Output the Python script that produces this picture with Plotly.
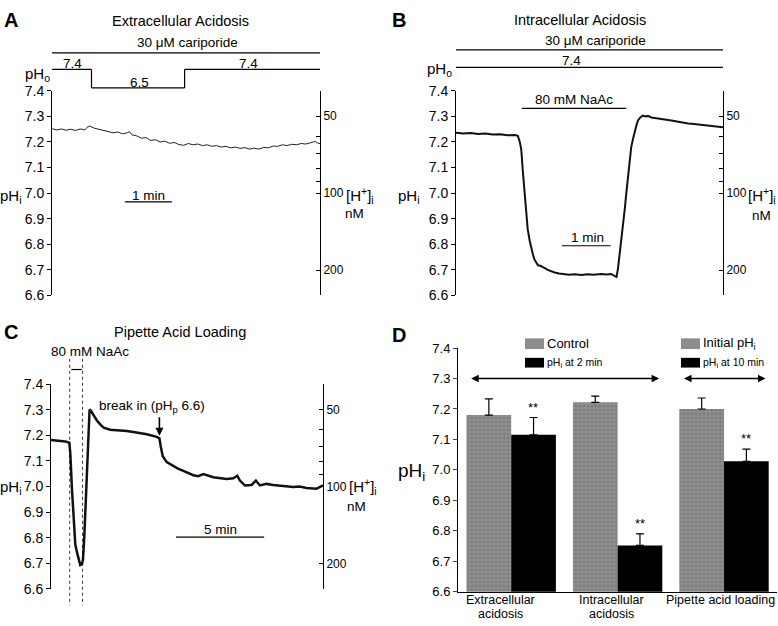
import plotly.graph_objects as go

W, H = 778, 626
FONT = "Liberation Sans, Arial, sans-serif"


def px(x):
    return x / W


def py(y):
    return 1 - y / H


# ---------------- shared tick data ----------------
ph_ticks = [6.6, 6.7, 6.8, 6.9, 7.0, 7.1, 7.2, 7.3, 7.4]
h_ticks = [40, 50, 60, 70, 80, 90, 100, 200]
h_labels = ["", "50", "", "", "", "", "100", "200"]

# ---------------- Panel A: extracellular acidosis ----------------
a_time = [0.0, 0.1, 0.2, 0.3, 0.4, 0.5, 0.6, 0.7, 0.75, 0.8, 0.9, 1.0, 1.1, 1.2, 1.3, 1.4,
          1.5, 1.6, 1.65, 1.7, 1.8, 1.9, 2.0, 2.1, 2.2, 2.3, 2.4, 2.5, 2.6, 2.7, 2.8, 2.9,
          3.0, 3.1, 3.2, 3.3, 3.4, 3.5, 3.6, 3.7, 3.8, 3.9, 4.0, 4.1, 4.2, 4.3, 4.4, 4.5,
          4.6, 4.7, 4.8, 4.9, 5.0, 5.1, 5.2, 5.3, 5.4, 5.5, 5.6, 5.65, 5.7]
a_phi = [7.252, 7.247, 7.251, 7.246, 7.250, 7.245, 7.251, 7.247, 7.258, 7.262, 7.254, 7.250,
         7.244, 7.242, 7.236, 7.239, 7.232, 7.236, 7.240, 7.228, 7.224, 7.215, 7.217, 7.206,
         7.209, 7.200, 7.203, 7.195, 7.198, 7.190, 7.187, 7.194, 7.189, 7.192, 7.186, 7.189,
         7.183, 7.186, 7.180, 7.183, 7.177, 7.180, 7.175, 7.178, 7.172, 7.176, 7.172, 7.179,
         7.177, 7.184, 7.183, 7.189, 7.186, 7.191, 7.189, 7.194, 7.192, 7.197, 7.202, 7.196,
         7.193]
a_range = [0, 5.7]
a_pho_switch = [0.84, 2.82]          # min: pHo 7.4 -> 6.5 -> 7.4
a_pho_labels = ["7.4", "6.5", "7.4"]
a_scale = [1.55, 2.55]               # 1 min bar

# ---------------- Panel B: intracellular acidosis ----------------
b_time = [0.0, 0.15, 0.3, 0.45, 0.6, 0.75, 0.9, 1.05, 1.2, 1.26, 1.30, 1.33, 1.36, 1.40,
          1.43, 1.46, 1.50, 1.53, 1.57, 1.60, 1.64, 1.67, 1.72, 1.77, 1.82, 1.87, 1.95,
          2.01, 2.10, 2.20, 2.30, 2.42, 2.55, 2.69, 2.80, 2.96, 3.06, 3.16, 3.24, 3.27,
          3.30, 3.34, 3.37, 3.40, 3.44, 3.47, 3.50, 3.54, 3.57, 3.61, 3.64, 3.68, 3.71,
          3.76, 3.81, 3.86, 3.91, 3.98, 4.05, 4.15, 4.25, 4.39, 4.50, 4.60, 4.73, 4.85,
          4.95, 5.07, 5.20, 5.30, 5.44]
b_phi = [7.236, 7.233, 7.235, 7.231, 7.233, 7.229, 7.230, 7.226, 7.227, 7.224, 7.200, 7.170,
         7.090, 7.010, 6.940, 6.860, 6.815, 6.785, 6.758, 6.740, 6.725, 6.718, 6.716, 6.712,
         6.706, 6.700, 6.694, 6.690, 6.686, 6.683, 6.681, 6.683, 6.680, 6.683, 6.681, 6.684,
         6.682, 6.684, 6.676, 6.672, 6.705, 6.770, 6.810, 6.880, 6.940, 7.000, 7.063, 7.130,
         7.180, 7.215, 7.240, 7.268, 7.285, 7.297, 7.303, 7.300, 7.302, 7.296, 7.294, 7.290,
         7.288, 7.284, 7.280, 7.276, 7.272, 7.270, 7.268, 7.266, 7.264, 7.262, 7.258]
b_range = [0, 5.44]
b_naac = [1.34, 3.47]
b_scale = [2.16, 3.15]

# ---------------- Panel C: pipette acid loading ----------------
c_time = [0.0, 0.245, 0.528, 0.811, 1.038, 1.094, 1.189, 1.283, 1.377, 1.472, 1.566, 1.660,
          1.755, 1.811, 1.887, 1.962, 2.038, 2.113, 2.189, 2.264, 2.415, 2.604, 2.792, 2.981,
          3.358, 3.925, 4.30, 4.679, 5.05, 5.434, 6.0, 6.151, 6.226, 6.340, 6.566, 6.943,
          7.2, 7.509, 8.075, 8.35, 8.642, 9.208, 9.962, 10.34, 10.566, 10.717, 11.0,
          11.377, 11.623, 11.849, 12.226, 12.6, 12.981, 13.736, 14.1, 14.49, 15.057, 15.43]
c_phi = [7.182, 7.180, 7.178, 7.176, 7.171, 7.130, 6.990, 6.864, 6.775, 6.743, 6.718, 6.693,
         6.697, 6.712, 6.800, 6.928, 7.080, 7.232, 7.302, 7.296, 7.277, 7.258, 7.243, 7.230,
         7.222, 7.220, 7.217, 7.213, 7.209, 7.204, 7.194, 7.188, 7.156, 7.118, 7.095, 7.080,
         7.070, 7.061, 7.044, 7.040, 7.048, 7.036, 7.029, 7.032, 7.042, 7.023, 7.004,
         7.006, 7.023, 7.004, 7.010, 7.006, 7.004, 6.998, 7.000, 6.994, 6.991, 7.004]
c_range = [0, 15.43]
c_naac = [1.15, 1.75]
c_dotted = [1.06, 1.79]
c_breakin = 6.15
c_scale = [7.09, 12.09]

# ---------------- Panel D: summary bars ----------------
d_cats = ["Extracellular<br>acidosis", "Intracellular<br>acidosis", "Pipette acid loading"]
d_cat_label_px = [500, 611, 720]
d_control = [7.180, 7.222, 7.200]
d_control_err = [0.053, 0.020, 0.036]
d_test = [7.115, 6.752, 7.028]
d_test_err = [0.057, 0.038, 0.040]
d_legend_left = ["Control", "pH<sub>i</sub> at 2 min"]
d_legend_right = ["Initial pH<sub>i</sub>", "pH<sub>i</sub> at 10 min"]

GRAY = "#8d8d8d"

fig = go.Figure()

# traces
fig.add_trace(go.Scatter(x=a_time, y=a_phi, xaxis="x", yaxis="y", mode="lines",
                         line=dict(color="#222222", width=1), showlegend=False, hoverinfo="skip"))
fig.add_trace(go.Scatter(x=[a_time[0]], y=[h_ticks[1]], xaxis="x", yaxis="y2", mode="markers",
                         marker=dict(opacity=0), showlegend=False, hoverinfo="skip"))
fig.add_trace(go.Scatter(x=b_time, y=b_phi, xaxis="x2", yaxis="y3", mode="lines",
                         line=dict(color="#111111", width=2), showlegend=False, hoverinfo="skip"))
fig.add_trace(go.Scatter(x=[b_time[0]], y=[h_ticks[1]], xaxis="x2", yaxis="y4", mode="markers",
                         marker=dict(opacity=0), showlegend=False, hoverinfo="skip"))
fig.add_trace(go.Scatter(x=c_time, y=c_phi, xaxis="x3", yaxis="y5", mode="lines",
                         line=dict(color="#111111", width=2.5), showlegend=False, hoverinfo="skip"))
fig.add_trace(go.Scatter(x=[c_time[0]], y=[h_ticks[1]], xaxis="x3", yaxis="y6", mode="markers",
                         marker=dict(opacity=0), showlegend=False, hoverinfo="skip"))

fig.add_trace(go.Bar(x=d_cats, y=d_control, xaxis="x4", yaxis="y7", showlegend=False,
                     marker=dict(color=GRAY, line=dict(width=0),
                                 pattern=dict(shape=".", fgcolor="#6a6a6a", size=4, solidity=0.35)),
                     error_y=dict(type="data", array=d_control_err, arrayminus=[0, 0, 0],
                                  symmetric=False, color="black", thickness=1.2, width=4)))
fig.add_trace(go.Bar(x=d_cats, y=d_test, xaxis="x4", yaxis="y7", showlegend=False,
                     marker=dict(color="black", line=dict(width=0)),
                     error_y=dict(type="data", array=d_test_err, arrayminus=[0, 0, 0],
                                  symmetric=False, color="black", thickness=1.2, width=4)))


def ph_axis(top, bottom, anchor):
    return dict(domain=[py(bottom), py(top)], range=[6.6, 7.4], anchor=anchor,
                tickvals=ph_ticks, tickformat=".1f", ticks="outside", ticklen=4,
                tickcolor="black", showline=True, linecolor="black", linewidth=1,
                showgrid=False, zeroline=False, tickfont=dict(size=14, color="black"))


def h_axis(overlay, anchor):
    return dict(overlaying=overlay, side="right", anchor=anchor, type="log",
                range=[2.4, 1.6], tickvals=h_ticks, ticktext=h_labels, ticks="inside",
                ticklen=4, tickcolor="black", showline=True, linecolor="black", linewidth=1,
                showgrid=False, zeroline=False, tickfont=dict(size=12, color="black"))


def t_axis(left, right, rng, anchor):
    return dict(domain=[px(left), px(right)], range=rng, anchor=anchor, visible=False,
                showgrid=False, zeroline=False)


layout = dict(
    width=W, height=H, margin=dict(l=0, r=0, t=0, b=0),
    paper_bgcolor="white", plot_bgcolor="rgba(0,0,0,0)",
    font=dict(family=FONT, size=13, color="black"),
    barmode="group", bargap=0.16, bargroupgap=0,
    xaxis=t_axis(52, 320, a_range, "y"),
    yaxis=ph_axis(85, 295, "x"),
    yaxis2=h_axis("y", "x"),
    xaxis2=t_axis(456, 723, b_range, "y3"),
    yaxis3=ph_axis(85, 295, "x2"),
    yaxis4=h_axis("y3", "x2"),
    xaxis3=t_axis(51, 323, c_range, "y5"),
    yaxis5=ph_axis(386, 596, "x3"),
    yaxis6=h_axis("y5", "x3"),
    xaxis4=dict(domain=[px(458), 0.999], anchor="y7", showline=True, linecolor="black",
                linewidth=1, ticks="", showgrid=False, zeroline=False, showticklabels=False),
    yaxis7=dict(domain=[py(599), py(349)], range=[6.6, 7.4], anchor="x4", tickvals=ph_ticks,
                tickformat=".1f", ticks="outside", ticklen=4, showline=True, linecolor="black",
                linewidth=1, showgrid=False, zeroline=False,
                tickfont=dict(size=13, color="black")),
)
fig.update_layout(**layout)

shapes = []
ann = []


def hline(xref, x0, x1, ypix, width=1.2, dash=None):
    shapes.append(dict(type="line", xref=xref, yref="paper", x0=x0, x1=x1, y0=py(ypix), y1=py(ypix),
                       line=dict(color="black", width=width, dash=dash)))


def vline(xref, x, y0pix, y1pix, width=1.2, dash=None):
    shapes.append(dict(type="line", xref=xref, yref="paper", x0=x, x1=x, y0=py(y0pix), y1=py(y1pix),
                       line=dict(color="black", width=width, dash=dash)))


def text(x, y, s, size=13, xanchor="center", yanchor="middle", bold=False, xref="paper", yref="paper"):
    ann.append(dict(x=x, y=y, xref=xref, yref=yref, text=("<b>%s</b>" % s) if bold else s,
                    showarrow=False, xanchor=xanchor, yanchor=yanchor,
                    font=dict(size=size, color="black", family=FONT)))


TITLE = 14.5

# ---- Panel A decorations ----
text(px(2), py(12), "A", size=20, xanchor="left", bold=True)
text(px(180), py(13), "Extracellular Acidosis", size=TITLE)
text(px(187), py(35), "30 μM cariporide", size=13.5)
hline("x", a_range[0], a_range[1], 46)
hline("x", a_range[0], a_pho_switch[0], 63)
vline("x", a_pho_switch[0], 63, 82)
hline("x", a_pho_switch[0], a_pho_switch[1], 82)
vline("x", a_pho_switch[1], 82, 63)
hline("x", a_pho_switch[1], a_range[1], 63)
text(px(52), py(68), "pH<sub>o</sub>", size=15, xanchor="right")
text(px(72), py(57), a_pho_labels[0], size=13.5)
text(px(139), py(76), a_pho_labels[1], size=13.5)
text(px(248), py(57), a_pho_labels[2], size=13.5)
hline("x", a_scale[0], a_scale[1], 199)
text(px(148), py(192), "1 min", size=13.5)
text(px(24), py(193), "pH<sub>i</sub>", size=15, xanchor="right")
text(px(344), py(192), "[H<sup>+</sup>]<sub>i</sub>", size=15, xanchor="left")
text(px(354), py(211), "nM", size=13.5)

# ---- Panel B decorations ----
text(px(390), py(12), "B", size=20, xanchor="left", bold=True)
text(px(580), py(12), "Intracellular Acidosis", size=TITLE)
text(px(595), py(33), "30 μM cariporide", size=13.5)
hline("x2", b_range[0], b_range[1], 43)
hline("x2", b_range[0], b_range[1], 61)
text(px(571), py(54), "7.4", size=13.5)
text(px(454), py(63), "pH<sub>o</sub>", size=15, xanchor="right")
hline("x2", b_naac[0], b_naac[1], 103)
text(px(574), py(94), "80 mM NaAc", size=13.5)
hline("x2", b_scale[0], b_scale[1], 244)
text(px(587), py(236), "1 min", size=13.5)
text(px(422), py(193), "pH<sub>i</sub>", size=15, xanchor="right")
text(px(746), py(192), "[H<sup>+</sup>]<sub>i</sub>", size=15, xanchor="left")
text(px(761), py(213), "nM", size=13.5)

# ---- Panel C decorations ----
text(px(2), py(333), "C", size=20, xanchor="left", bold=True)
text(px(180), py(332), "Pipette Acid Loading", size=TITLE)
text(px(90), py(353), "80 mM NaAc", size=13.5)
hline("x3", c_naac[0], c_naac[1], 371)
vline("x3", c_dotted[0], 360, 613, width=0.8, dash="dot")
vline("x3", c_dotted[1], 360, 613, width=0.8, dash="dot")
text(px(152), py(409), "break in (pH<sub>p</sub> 6.6)", size=13.5)
ann.append(dict(x=c_breakin, y=py(439), xref="x3", yref="paper", ax=0, ay=-20,
                axref="pixel", ayref="pixel", text="", showarrow=True, arrowhead=2,
                arrowsize=1, arrowwidth=1.6, arrowcolor="black"))
hline("x3", c_scale[0], c_scale[1], 543)
text(px(220), py(535), "5 min", size=13.5)
text(px(24), py(492), "pH<sub>i</sub>", size=15, xanchor="right")
text(px(347), py(491), "[H<sup>+</sup>]<sub>i</sub>", size=15, xanchor="left")
text(px(356), py(512), "nM", size=13.5)

# ---- Panel D decorations ----
text(px(390), py(336), "D", size=20, xanchor="left", bold=True)
text(px(427), py(476), "pH<sub>i</sub>", size=19, xanchor="right")
for (bx, labels) in ((525, d_legend_left), (681, d_legend_right)):
    shapes.append(dict(type="rect", xref="paper", yref="paper", x0=px(bx), x1=px(bx + 19),
                       y0=py(350), y1=py(339), fillcolor=GRAY, line=dict(width=0)))
    shapes.append(dict(type="rect", xref="paper", yref="paper", x0=px(bx), x1=px(bx + 19),
                       y0=py(369), y1=py(359), fillcolor="black", line=dict(width=0)))
    text(px(bx + 20), py(344), labels[0], size=13, xanchor="left")
    text(px(bx + 20), py(364), labels[1], size=10.5, xanchor="left")
# double-headed arrows spanning the protocol groups
for (x0, x1) in ((-0.39, 1.39), (1.61, 2.39)):
    ann.append(dict(x=x1, y=7.3, ax=x0, ay=7.3, xref="x4", yref="y7", axref="x4", ayref="y7",
                    text="", showarrow=True, arrowhead=2, startarrowhead=2, arrowside="end+start",
                    arrowsize=1, arrowwidth=1.5, arrowcolor="black"))
for cat, v, e in zip(d_cats, d_test, d_test_err):
    ann.append(dict(x=cat, y=v + e, xref="x4", yref="y7", text="**", showarrow=False,
                    xshift=22, yshift=1, yanchor="bottom", font=dict(size=13, color="black")))
# category labels (tight line spacing as in the original)
for cat, cx in zip(d_cats, d_cat_label_px):
    for i, line in enumerate(cat.split("<br>")):
        text(px(cx), py(608 + 14 * i), line, size=12.5)

fig.update_layout(shapes=shapes, annotations=ann)
fig.write_html("out.html", config={"displayModeBar": False},
               post_script="document.body.style.margin='0';")
